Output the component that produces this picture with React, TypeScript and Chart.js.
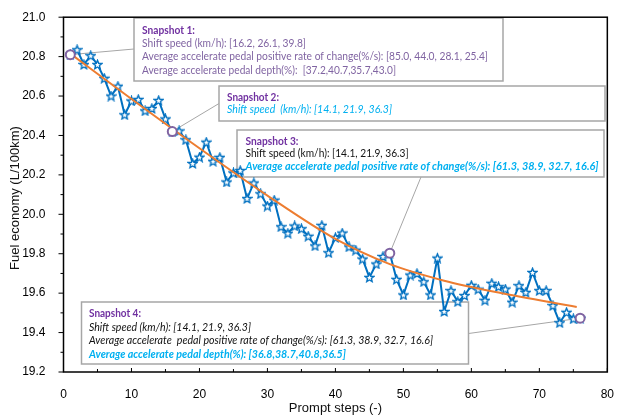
import React, { useEffect, useRef } from 'react';
import { Chart, registerables } from 'chart.js';

Chart.register(...registerables);

// ---------- data ----------
const steps = [
  1, 2, 3, 4, 5, 6, 7, 8, 9, 10, 11, 12, 13, 14, 15, 16, 17, 18, 19, 20,
  21, 22, 23, 24, 25, 26, 27, 28, 29, 30, 31, 32, 33, 34, 35, 36, 37, 38, 39, 40,
  41, 42, 43, 44, 45, 46, 47, 48, 49, 50, 51, 52, 53, 54, 55, 56, 57, 58, 59, 60,
  61, 62, 63, 64, 65, 66, 67, 68, 69, 70, 71, 72, 73, 74, 75, 76,
];

const fuelEconomy = [
  20.81, 20.835, 20.76, 20.805, 20.76, 20.69, 20.6, 20.65, 20.505, 20.575,
  20.583, 20.525, 20.537, 20.578, 20.484, 20.42, 20.423, 20.378, 20.258, 20.29,
  20.366, 20.269, 20.289, 20.164, 20.21, 20.222, 20.08, 20.159, 20.104, 20.042,
  20.072, 19.937, 19.904, 19.941, 19.927, 19.889, 19.84, 19.944, 19.805, 19.882,
  19.905, 19.835, 19.818, 19.773, 19.68, 19.748, 19.786, 19.803, 19.67, 19.591,
  19.692, 19.7, 19.658, 19.591, 19.778, 19.507, 19.613, 19.557, 19.588, 19.64,
  19.62, 19.564, 19.65, 19.633, 19.621, 19.554, 19.638, 19.604, 19.705, 19.613,
  19.613, 19.537, 19.45, 19.503, 19.47, 19.473,
];

// fitted trend line
const fitSteps = [1, 10, 20, 30, 40, 48, 56, 64, 75.5];
const fitValues = [20.815, 20.585, 20.335, 20.095, 19.875, 19.747, 19.663, 19.603, 19.53];

const snapshotSteps = [1, 16, 48, 76];

const xTickValues = [0, 10, 20, 30, 40, 50, 60, 70, 80];
const yTickValues = [19.2, 19.4, 19.6, 19.8, 20.0, 20.2, 20.4, 20.6, 20.8, 21.0];

const xTitle = 'Prompt steps (-)';
const yTitle = 'Fuel economy (L/100km)';

const snapshotTitles = ['Snapshot 1:', 'Snapshot 2:', 'Snapshot 3:', 'Snapshot 4:'];
const snapshot1Lines = [
  'Shift speed (km/h): [16.2, 26.1, 39.8]',
  'Average accelerate pedal positive rate of change(%/s): [85.0, 44.0, 28.1, 25.4]',
  'Average accelerate pedal depth(%):  [37.2,40.7,35.7,43.0]',
];
const snapshot2Lines = ['Shift speed  (km/h): [14.1, 21.9, 36.3]'];
const snapshot3Lines = [
  'Shift speed (km/h): [14.1, 21.9, 36.3]',
  'Average accelerate pedal positive rate of change(%/s): [61.3, 38.9, 32.7, 16.6]',
];
const snapshot4Lines = [
  'Shift speed (km/h): [14.1, 21.9, 36.3]',
  'Average accelerate  pedal positive rate of change(%/s): [61.3, 38.9, 32.7, 16.6]',
  'Average accelerate pedal depth(%): [36.8,38.7,40.8,36.5]',
];

// ---------- styles / layout ----------
const PURPLE = '#7030A0';
const LIGHT_PURPLE = '#8064A2';
const CYAN = '#00B0F0';
const ANN_FONT = 'Lato, "Open Sans", sans-serif';
const AX_FONT = '"Liberation Sans", Arial, sans-serif';

type Line = { text: string; style: string; weight: string; color: string; w: number };
type Box = {
  x: number; y: number; w: number; h: number; tx: number; ty: number[];
  lines: Line[]; anchor: [number, number]; snap: number;
};

const boxes: Box[] = [
  {
    x: 134, y: 18, w: 369, h: 63, tx: 142, ty: [30, 43.5, 56.5, 70], snap: 0, anchor: [134, 49],
    lines: [
      { text: snapshotTitles[0], style: 'normal', weight: 'bold', color: PURPLE, w: 53 },
      { text: snapshot1Lines[0], style: 'normal', weight: 'normal', color: LIGHT_PURPLE, w: 164 },
      { text: snapshot1Lines[1], style: 'normal', weight: 'normal', color: LIGHT_PURPLE, w: 346 },
      { text: snapshot1Lines[2], style: 'normal', weight: 'normal', color: LIGHT_PURPLE, w: 254 },
    ],
  },
  {
    x: 219, y: 86, w: 386, h: 35, tx: 227, ty: [97.5, 109.5], snap: 1, anchor: [219, 103.5],
    lines: [
      { text: snapshotTitles[1], style: 'normal', weight: 'bold', color: PURPLE, w: 52 },
      { text: snapshot2Lines[0], style: 'italic', weight: 'normal', color: CYAN, w: 165 },
    ],
  },
  {
    x: 237, y: 130, w: 367, h: 47, tx: 245.5, ty: [141, 153.5, 166.5], snap: 2, anchor: [421, 177],
    lines: [
      { text: snapshotTitles[2], style: 'normal', weight: 'bold', color: PURPLE, w: 53 },
      { text: snapshot3Lines[0], style: 'normal', weight: 'normal', color: '#111', w: 163 },
      { text: snapshot3Lines[1], style: 'italic', weight: 'bold', color: CYAN, w: 353 },
    ],
  },
  {
    x: 81.5, y: 302, w: 387, h: 62, tx: 89, ty: [313.5, 327, 340.5, 354], snap: 3, anchor: [468.5, 333.5],
    lines: [
      { text: snapshotTitles[3], style: 'normal', weight: 'bold', color: PURPLE, w: 52 },
      { text: snapshot4Lines[0], style: 'italic', weight: 'normal', color: '#111', w: 162 },
      { text: snapshot4Lines[1], style: 'italic', weight: 'normal', color: '#111', w: 344 },
      { text: snapshot4Lines[2], style: 'italic', weight: 'bold', color: CYAN, w: 257 },
    ],
  },
];

function fitText(ctx: CanvasRenderingContext2D, text: string, x: number, y: number, font: string, color: string, width: number) {
  ctx.save();
  ctx.font = font;
  ctx.fillStyle = color;
  ctx.textBaseline = 'middle';
  ctx.textAlign = 'left';
  const m = ctx.measureText(text).width || 1;
  ctx.translate(x, y);
  ctx.scale(width / m, 1);
  ctx.fillText(text, 0, 0);
  ctx.restore();
}

function makeStar(size: number, color: string): HTMLCanvasElement {
  const c = document.createElement('canvas');
  c.width = size;
  c.height = size;
  const g = c.getContext('2d')!;
  const cx = size / 2, cy = size / 2 + 0.4;
  const R = size / 2 - 0.9, r = R * 0.45;
  g.beginPath();
  for (let i = 0; i < 10; i++) {
    const a = -Math.PI / 2 + (i * Math.PI) / 5;
    const rad = i % 2 === 0 ? R : r;
    g.lineTo(cx + rad * Math.cos(a), cy + rad * Math.sin(a));
  }
  g.closePath();
  g.fillStyle = '#ffffff';
  g.fill();
  g.lineWidth = 1.4;
  g.strokeStyle = color;
  g.stroke();
  return c;
}

const decorPlugin = {
  id: 'decor',
  beforeDatasetsDraw(chart: any) {
    const { ctx, scales } = chart;
    const xs = scales.x, ys = scales.y;
    ctx.save();
    // leader lines
    ctx.strokeStyle = '#A6A6A6';
    ctx.lineWidth = 1;
    boxes.forEach((b) => {
      const s = snapshotSteps[b.snap];
      const v = fuelEconomy[steps.indexOf(s)];
      ctx.beginPath();
      ctx.moveTo(xs.getPixelForValue(s), ys.getPixelForValue(v));
      ctx.lineTo(b.anchor[0], b.anchor[1]);
      ctx.stroke();
    });
    // boxes
    boxes.forEach((b) => {
      ctx.fillStyle = '#ffffff';
      ctx.fillRect(b.x, b.y, b.w, b.h);
      ctx.strokeStyle = '#A6A6A6';
      ctx.lineWidth = 1.5;
      ctx.strokeRect(b.x, b.y, b.w, b.h);
      b.lines.forEach((ln, i) => {
        const font = `${ln.style} ${ln.weight} 11px ${ANN_FONT}`;
        fitText(ctx, ln.text, b.tx, b.ty[i], font, ln.color, ln.w);
      });
    });
    ctx.restore();
  },
  afterDraw(chart: any) {
    const { ctx, chartArea: ca, scales } = chart;
    const xs = scales.x, ys = scales.y;
    ctx.save();
    ctx.strokeStyle = '#000';
    ctx.lineWidth = 1.5;
    ctx.strokeRect(ca.left, ca.top, ca.right - ca.left, ca.bottom - ca.top);
    ctx.lineWidth = 1;
    ctx.beginPath();
    // y ticks (outward)
    yTickValues.forEach((v, i) => {
      const py = ys.getPixelForValue(v);
      ctx.moveTo(ca.left - 5, py);
      ctx.lineTo(ca.left, py);
      if (i < yTickValues.length - 1) {
        const pm = ys.getPixelForValue((v + yTickValues[i + 1]) / 2);
        ctx.moveTo(ca.left - 3, pm);
        ctx.lineTo(ca.left, pm);
      }
    });
    // x ticks (inward)
    xTickValues.forEach((v, i) => {
      const px = xs.getPixelForValue(v);
      ctx.moveTo(px, ca.bottom);
      ctx.lineTo(px, ca.bottom - 4);
      if (i < xTickValues.length - 1) {
        const pm = xs.getPixelForValue((v + xTickValues[i + 1]) / 2);
        ctx.moveTo(pm, ca.bottom);
        ctx.lineTo(pm, ca.bottom - 3);
      }
    });
    ctx.stroke();
    // axis titles
    ctx.fillStyle = '#111';
    ctx.font = `13px ${AX_FONT}`;
    ctx.textAlign = 'center';
    ctx.textBaseline = 'middle';
    ctx.fillText(xTitle, (ca.left + ca.right) / 2, 408);
    ctx.translate(15, 198);
    ctx.rotate(-Math.PI / 2);
    ctx.fillText(yTitle, 0, 0);
    ctx.restore();
  },
};

export default function App() {
  const ref = useRef<HTMLCanvasElement | null>(null);

  useEffect(() => {
    document.body.style.margin = '0';
    const canvas = ref.current!;
    const star = makeStar(11, '#0070C0');
    const chart = new Chart(canvas, {
      type: 'line',
      data: {
        datasets: [
          {
            label: 'Snapshots',
            data: snapshotSteps.map((s) => ({ x: s, y: fuelEconomy[steps.indexOf(s)] })),
            showLine: false,
            pointStyle: 'circle',
            pointRadius: 4.5,
            pointBorderWidth: 2,
            pointBorderColor: LIGHT_PURPLE,
            pointBackgroundColor: '#ffffff',
            order: 0,
          } as any,
          {
            label: 'Fit',
            data: fitSteps.map((s, i) => ({ x: s, y: fitValues[i] })),
            borderColor: '#ED7D31',
            borderWidth: 2,
            pointRadius: 0,
            cubicInterpolationMode: 'monotone',
            order: 1,
          } as any,
          {
            label: 'Fuel economy',
            data: steps.map((s, i) => ({ x: s, y: fuelEconomy[i] })),
            borderColor: '#0070C0',
            borderWidth: 2,
            pointStyle: star,
            pointRadius: 5,
            order: 2,
          } as any,
        ],
      },
      options: {
        animation: false,
        responsive: false,
        devicePixelRatio: 1,
        layout: { padding: { top: 15, right: 9, left: 0, bottom: 0 } },
        plugins: { legend: { display: false }, tooltip: { enabled: false } },
        scales: {
          x: {
            type: 'linear',
            min: 0,
            max: 80,
            afterBuildTicks: (s: any) => { s.ticks = xTickValues.map((v) => ({ value: v })); },
            afterFit: (s: any) => { s.height = 47; },
            grid: { display: false },
            border: { display: false },
            ticks: { padding: 7, color: '#000', maxRotation: 0, autoSkip: false, font: { family: AX_FONT, size: 12 } },
          },
          y: {
            type: 'linear',
            min: 19.2,
            max: 21.0,
            afterBuildTicks: (s: any) => { s.ticks = yTickValues.map((v) => ({ value: v })); },
            afterFit: (s: any) => { s.width = 63.5; },
            grid: { display: false },
            border: { display: false },
            ticks: {
              padding: 10,
              color: '#000',
              autoSkip: false,
              font: { family: AX_FONT, size: 12 },
              callback: (v: any) => Number(v).toFixed(1),
            },
          },
        },
      } as any,
      plugins: [decorPlugin],
    });
    return () => chart.destroy();
  }, []);

  return (
    <div style={{ position: 'absolute', left: 0, top: 0, width: 621, height: 419, background: '#fff' }}>
      <canvas ref={ref} width={621} height={419} style={{ width: 621, height: 419, display: 'block' }} />
    </div>
  );
}
